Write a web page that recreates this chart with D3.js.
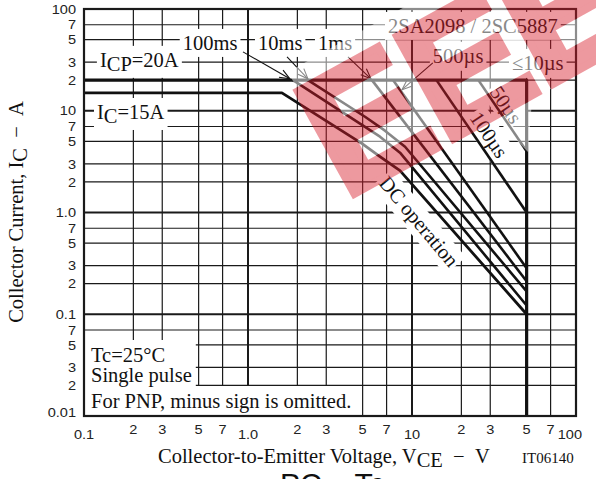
<!DOCTYPE html>
<html>
<head>
<meta charset="utf-8">
<script src="https://cdn.jsdelivr.net/npm/d3@7"></script>
<style>
  html, body { margin: 0; padding: 0; background: #fff; }
  svg { display: block; }
</style>
</head>
<body>
<svg id="chart" width="596" height="479"></svg>
<script>
// ---- tick values and labels ----
const xTicks = [0.1, 0.2, 0.3, 0.5, 0.7, 1, 2, 3, 5, 7, 10, 20, 30, 50, 70, 100];
const xTickLabels = ["0.1", "2", "3", "5", "7", "1.0", "2", "3", "5", "7", "10", "2", "3", "5", "7", "100"];
const yTicks = [0.01, 0.02, 0.03, 0.05, 0.07, 0.1, 0.2, 0.3, 0.5, 0.7, 1, 2, 3, 5, 7, 10, 20, 30, 50, 70, 100];
const yTickLabels = ["0.01", "2", "3", "5", "7", "0.1", "2", "3", "5", "7", "1.0", "2", "3", "5", "7", "10", "2", "3", "5", "7", "100"];

// ---- safe operating area boundaries, [VCE (V), IC (A)] ----
const soa10us  = [[0.1, 20], [50, 20], [50, 0.01]];
const soa50us  = [[25.4, 20], [50, 4.0]];
const soa100us = [[14.1, 20], [50, 1.0]];
const soa500us = [[7.66, 20], [50, 0.283]];
const soa1ms   = [[5.70, 20], [50, 0.211]];
const soa10ms  = [[2.32, 20], [5.17, 8.73], [6.84, 6.37], [9.07, 4.43], [50, 0.168]];
const soa100ms = [[1.88, 20], [4.82, 7.46], [6.38, 5.56], [8.45, 3.87], [50, 0.122]];
const soaDC    = [[0.1, 15], [1.61, 15], [4.96, 4.75], [6.38, 3.54], [8.45, 2.58], [50, 0.1]];

const svg = d3.select("#chart");
const PL = 84, PR = 576, PT = 9, PB = 416;
const x = d3.scaleLog().domain([0.1, 100]).range([PL, PR]);
const y = d3.scaleLog().domain([0.01, 100]).range([PB, PT]);
const isDecade = v => Math.abs(Math.log10(v) - Math.round(Math.log10(v))) < 1e-9;

const SERIF = "'Liberation Serif', 'Times New Roman', serif";
const SANS = "'Liberation Sans', Arial, sans-serif";

// ---- grid ----
const grid = svg.append("g");
grid.selectAll("line.gv").data(xTicks).join("line")
  .attr("x1", d => x(d)).attr("x2", d => x(d))
  .attr("y1", PT).attr("y2", PB)
  .attr("stroke", "#1a1a1a").attr("stroke-width", d => isDecade(d) ? 2 : 1.2);
grid.selectAll("line.gh").data(yTicks).join("line")
  .attr("y1", d => y(d)).attr("y2", d => y(d))
  .attr("x1", PL).attr("x2", PR)
  .attr("stroke", "#1a1a1a").attr("stroke-width", d => isDecade(d) ? 2 : 1.2);

// ---- tick labels (slightly wide digits) ----
const tl = svg.append("g").attr("font-family", SANS).attr("font-size", 13).attr("fill", "#222");
tl.selectAll("text.xl").data(xTicks).join("text")
  .attr("transform", (d, i) => {
    const px = i === xTicks.length - 1 ? PR + 6 : x(d);
    const py = isDecade(d) ? 438.8 : 433.8;
    return `translate(${px},${py}) scale(1.12,1)`;
  })
  .attr("text-anchor", (d, i) => i === xTicks.length - 1 ? "end" : "middle")
  .text((d, i) => xTickLabels[i]);
tl.selectAll("text.yl").data(yTicks).join("text")
  .attr("transform", d => `translate(76,${Math.min(y(d) + 4.7, PB + 0.5)}) scale(1.12,1)`)
  .attr("text-anchor", "end")
  .text((d, i) => yTickLabels[i]);

// ---- labels on white boxes ----
function boxedText(parent, px, py, segments, opt = {}) {
  const size = opt.size || 20.5, pad = opt.pad == null ? 3 : opt.pad;
  const g = parent.append("g")
    .attr("transform", `translate(${px},${py}) rotate(${opt.rotate || 0})`);
  const rect = g.append("rect").attr("fill", "#fff");
  const t = g.append("text")
    .attr("font-family", opt.family || SERIF)
    .attr("font-size", size)
    .attr("fill", "#111")
    .attr("text-anchor", opt.anchor || "start");
  if (opt.central) t.attr("dominant-baseline", "central");
  let shifted = false;
  segments.forEach(s => {
    const sp = t.append("tspan").text(s.t);
    if (s.sub && !shifted) { sp.attr("dy", 4); shifted = true; }
    else if (!s.sub && shifted) { sp.attr("dy", -4); shifted = false; }
  });
  const bb = t.node().getBBox();
  rect.attr("x", bb.x - pad).attr("y", bb.y - pad)
    .attr("width", bb.width + 2 * pad).attr("height", bb.height + 2 * pad);
  return g;
}

const ann = svg.append("g");
boxedText(ann, x(0.125), y(27), [{t: "I"}, {t: "CP", sub: true}, {t: "=20A"}]);
boxedText(ann, x(0.12), y(8.3), [{t: "I"}, {t: "C", sub: true}, {t: "=15A"}]);
boxedText(ann, x(0.40), y(39.6), [{t: "100ms"}]);
boxedText(ann, x(1.15), y(39.6), [{t: "10ms"}]);
boxedText(ann, x(2.67), y(39.6), [{t: "1ms"}]);
boxedText(ann, x(7.14), y(58.2), [{t: "2SA2098 / 2SC5887"}]);
boxedText(ann, x(13.4), y(29.6), [{t: "500µs"}]);
boxedText(ann, x(40.7), y(25.2), [{t: "≤10µs"}]);
boxedText(ann, x(37.4), y(11.45), [{t: "50µs"}], {rotate: 56, anchor: "middle", central: true, pad: 2});
boxedText(ann, x(29.5), y(5.82), [{t: "100µs"}], {rotate: 56, anchor: "middle", central: true, pad: 2});
boxedText(ann, x(11.03), y(0.817), [{t: "DC operation"}], {rotate: 50, anchor: "middle", central: true, pad: 2});

// conditions note block in the lower-left corner
const noteBlock = svg.append("g");
const n1 = noteBlock.append("rect").attr("fill", "#fff");
const n2 = noteBlock.append("rect").attr("fill", "#fff");
const nt = noteBlock.append("g").attr("font-family", SERIF).attr("font-size", 20.5).attr("fill", "#111");
const tA = nt.append("text").attr("x", 91).attr("y", 362).text("Tc=25°C");
const tB = nt.append("text").attr("x", 91).attr("y", 382).text("Single pulse");
const tC = nt.append("text").attr("x", 91).attr("y", 408).text("For PNP, minus sign is omitted.");
{
  const a = tA.node().getBBox(), b = tB.node().getBBox(), c = tC.node().getBBox();
  const w1 = Math.max(a.x + a.width, b.x + b.width) + 4 - PL;
  n1.attr("x", PL + 1).attr("y", a.y - 4).attr("width", w1 - 1).attr("height", PB - (a.y - 4));
  n2.attr("x", PL + 1).attr("y", c.y - 4).attr("width", c.x + c.width + 4 - PL - 1).attr("height", PB - (c.y - 4));
}

// ---- SOA curves ----
const line = d3.line().x(d => x(d[0])).y(d => y(d[1]));
const curves = svg.append("g").attr("fill", "none").attr("stroke", "#111")
  .attr("stroke-linejoin", "round").attr("stroke-linecap", "butt");
[
  [soa10us, 3.2], [soa50us, 2.6], [soa100us, 2.6], [soa500us, 2.6], [soa1ms, 2.6],
  [soa10ms, 2.6], [soa100ms, 2.6], [soaDC, 2.8]
].forEach(([pts, w]) => curves.append("path").attr("d", line(pts)).attr("stroke-width", w));

// ---- leader arrows for the pulse labels ----
const arrows = [
  {from: [0.932, 37.9], to: [1.80, 20.6]},
  {from: [1.73, 33.8], to: [2.32, 20.6]},
  {from: [4.07, 33.8], to: [5.62, 20.6]},
  {from: [13.4, 29.6], to: [8.69, 16.1]}
];
const ag = svg.append("g").attr("stroke", "#111").attr("stroke-width", 1.1).attr("fill", "none");
arrows.forEach(a => {
  const x1 = x(a.from[0]), y1 = y(a.from[1]), x2 = x(a.to[0]), y2 = y(a.to[1]);
  const ang = Math.atan2(y2 - y1, x2 - x1), L = 11, s = 0.38;
  ag.append("line").attr("x1", x1).attr("y1", y1).attr("x2", x2).attr("y2", y2);
  ag.append("path").attr("d",
    `M${x2 - L * Math.cos(ang - s)},${y2 - L * Math.sin(ang - s)}L${x2},${y2}` +
    `L${x2 - L * Math.cos(ang + s)},${y2 - L * Math.sin(ang + s)}`);
});

// ---- frame ----
svg.append("rect").attr("x", PL).attr("y", PT)
  .attr("width", PR - PL).attr("height", PB - PT)
  .attr("fill", "none").attr("stroke", "#1a1a1a").attr("stroke-width", 2.2);

// ---- axis titles ----
const yt = svg.append("text").attr("font-family", SERIF).attr("font-size", 20.5).attr("fill", "#111")
  .attr("text-anchor", "middle").attr("transform", "translate(23,212) rotate(-90)");
yt.append("tspan").text("Collector Current, I");
yt.append("tspan").text("C").attr("dy", 4);
yt.append("tspan").text("\u2002\u2212\u2002A").attr("dy", -4);

const xt = svg.append("text").attr("font-family", SERIF).attr("font-size", 20.5).attr("fill", "#111")
  .attr("x", 158).attr("y", 463);
xt.append("tspan").text("Collector-to-Emitter Voltage, V");
xt.append("tspan").text("CE").attr("dy", 4);
xt.append("tspan").text("\u2002\u2212\u2002V").attr("dy", -4);

svg.append("text").attr("font-family", SERIF).attr("font-size", 15).attr("fill", "#111")
  .attr("x", 522).attr("y", 463).text("IT06140");

// next chart title, cut by the bottom edge
svg.append("text").attr("font-family", SANS).attr("font-size", 30).attr("fill", "#111")
  .attr("x", 280).attr("y", 494).text("PC – Tc");

// ---- watermark: translucent red letters on a whitish band ----
const defs = svg.append("defs");
const wmTransform = "translate(357,197) rotate(-29)";
const WM_TEXT = "EEE";
function wmLetters(sel, color) {
  return sel.append("text").attr("transform", wmTransform).attr("x", -12).attr("y", -4)
    .attr("font-family", SANS).attr("font-weight", "bold").attr("font-size", 170)
    .attr("fill", color).attr("stroke", color).attr("stroke-width", 8)
    .attr("stroke-linejoin", "miter").text(WM_TEXT);
}
const mask = defs.append("mask").attr("id", "wm-hole")
  .attr("maskUnits", "userSpaceOnUse").attr("x", 0).attr("y", 0).attr("width", 596).attr("height", 479);
mask.append("rect").attr("width", 596).attr("height", 479).attr("fill", "#fff");
wmLetters(mask, "#000");

svg.append("polygon")
  .attr("points", "288,72 357,197 415,165 495,118 528,152 532,100 600,60 600,-5 426,-5")
  .attr("fill", "#fff").attr("fill-opacity", 0.5).attr("mask", "url(#wm-hole)");
wmLetters(svg.append("g").attr("opacity", 0.45), "#d81e2c");
</script>
</body>
</html>
